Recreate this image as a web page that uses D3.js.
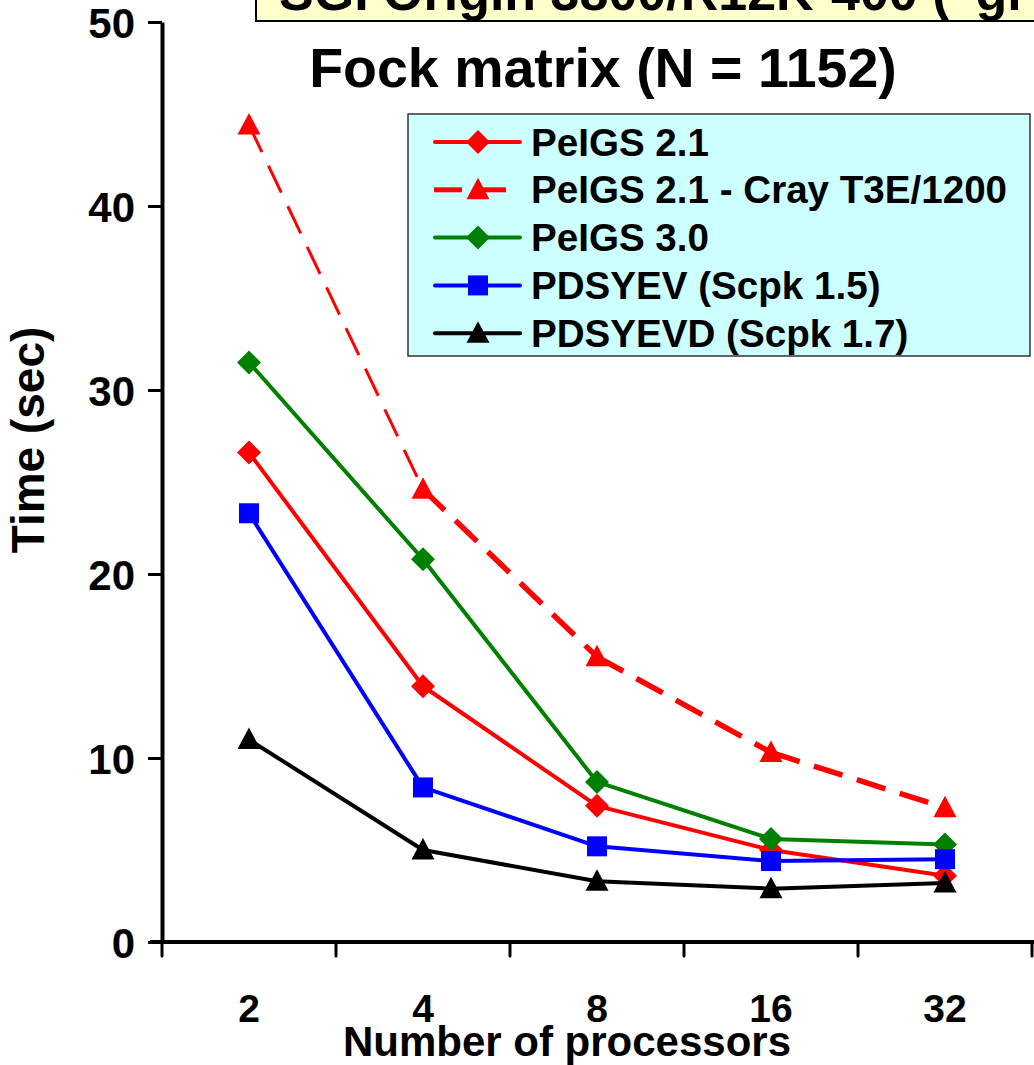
<!DOCTYPE html>
<html>
<head>
<meta charset="utf-8">
<script src="https://cdn.jsdelivr.net/npm/d3@7"></script>
<style>
  html, body { margin: 0; padding: 0; background: #fff; }
  svg { display: block; font-family: "Liberation Sans", Arial, sans-serif; font-weight: bold; }
</style>
</head>
<body>
<svg id="chart" width="1034" height="1065"></svg>
<script>
// ---- data ----
const processors = ["2", "4", "8", "16", "32"];
const yTicks = [0, 10, 20, 30, 40, 50];
const seriesNames = ["PeIGS 2.1", "PeIGS 2.1 - Cray T3E/1200", "PeIGS 3.0", "PDSYEV (Scpk 1.5)", "PDSYEVD (Scpk 1.7)"];
const peigs21 = [26.6, 13.9, 7.4, 5.0, 3.6];
const peigs21Cray = [44.4, 24.6, 15.5, 10.3, 7.3];
const peigs30 = [31.5, 20.8, 8.7, 5.6, 5.3];
const pdsyev = [23.3, 8.4, 5.2, 4.4, 4.5];
const pdsyevd = [11.0, 5.0, 3.3, 2.9, 3.2];
const titleText = "Fock matrix (N = 1152)";
const bannerText = "SGI Origin 3800/R12K-400 (\u201Cgi";
const xTitle = "Number of processors";
const yTitle = "Time (sec)";

// ---- styles ----
const styles = [
  { color: "#FF0000", shape: "diamond", dash: null },
  { color: "#FF0000", shape: "triangle", dash: "30,15" },
  { color: "#008000", shape: "diamond", dash: null },
  { color: "#0000FF", shape: "square", dash: null },
  { color: "#000000", shape: "triangle", dash: null }
];
const crayWidths = [3, 5.5, 5.5, 5.5];
const values = [peigs21, peigs21Cray, peigs30, pdsyev, pdsyevd];

const svg = d3.select("#chart");
const x = d3.scaleBand().domain(processors).range([162, 1032]).padding(0);
const y = d3.scaleLinear().domain([0, 50]).range([942, 22]);
const cx = d => x(d) + x.bandwidth() / 2;

// banner at top
svg.append("rect").attr("x", 256).attr("y", -40).attr("width", 900).attr("height", 61)
  .attr("fill", "#FFFFCC").attr("stroke", "#000").attr("stroke-width", 2);
svg.append("text").attr("x", 279).attr("y", 10).attr("font-size", 52).text(bannerText);

// title
svg.append("text").attr("x", 603).attr("y", 87).attr("text-anchor", "middle")
  .attr("font-size", 55.5).text(titleText);

// y axis
const yAxis = d3.axisLeft(y).tickValues(yTicks).tickSize(14).tickPadding(13).tickSizeOuter(0);
const gy = svg.append("g").attr("transform", "translate(162,0)").call(yAxis);
gy.select(".domain").attr("stroke-width", 4);
gy.selectAll(".tick line").attr("stroke-width", 3);
gy.selectAll(".tick text").attr("font-size", 42).attr("font-family", "Liberation Sans, Arial, sans-serif")
  .attr("font-weight", "bold").attr("fill", "#000").attr("dy", "0.36em");

// x axis
const bounds = processors.map(p => x(p)).concat([x(processors[processors.length - 1]) + x.bandwidth()]);
svg.append("line").attr("x1", 150).attr("x2", 1034).attr("y1", y(0)).attr("y2", y(0))
  .attr("stroke", "#000").attr("stroke-width", 4);
svg.selectAll(".xtick").data(bounds).enter().append("line")
  .attr("x1", d => d).attr("x2", d => d).attr("y1", y(0)).attr("y2", y(0) + 14)
  .attr("stroke", "#000").attr("stroke-width", 3).attr("stroke-linecap", "round");
svg.selectAll(".xlabel").data(processors).enter().append("text")
  .attr("x", d => cx(d)).attr("y", 1022).attr("text-anchor", "middle")
  .attr("font-size", 39).text(d => d);

// axis titles
svg.append("text").attr("x", 567).attr("y", 1056).attr("text-anchor", "middle")
  .attr("font-size", 42).text(xTitle);
svg.append("text").attr("transform", "translate(44,440) rotate(-90)").attr("text-anchor", "middle")
  .attr("font-size", 46).text(yTitle);

// markers
function diamondPath(px, py, r) {
  return `M${px},${py - r}L${px + r},${py}L${px},${py + r}L${px - r},${py}Z`;
}
function drawMarker(g, shape, color, px, py) {
  if (shape === "diamond") {
    g.append("path").attr("d", diamondPath(px, py, 12)).attr("fill", color);
  } else if (shape === "square") {
    g.append("rect").attr("x", px - 10).attr("y", py - 10).attr("width", 20).attr("height", 20).attr("fill", color);
  } else {
    g.append("path").attr("d", `M${px},${py - 12}L${px + 11.5},${py + 9.5}L${px - 11.5},${py + 9.5}Z`).attr("fill", color);
  }
}

const line = d3.line().x(d => cx(d.p)).y(d => y(d.v));
values.forEach((vals, i) => {
  const st = styles[i];
  const pts = processors.map((p, j) => ({ p, v: vals[j] }));
  const g = svg.append("g");
  if (st.dash) {
    for (let j = 0; j < pts.length - 1; j++) {
      g.append("path").attr("d", line([pts[j], pts[j + 1]])).attr("fill", "none")
        .attr("stroke", st.color).attr("stroke-width", crayWidths[j]).attr("stroke-dasharray", st.dash);
    }
  } else {
    g.append("path").attr("d", line(pts)).attr("fill", "none").attr("stroke", st.color)
      .attr("stroke-width", 4).attr("stroke-linejoin", "round");
  }
  pts.forEach(d => drawMarker(g, st.shape, st.color, cx(d.p), y(d.v)));
});

// legend
const lg = svg.append("g");
lg.append("rect").attr("x", 408).attr("y", 114).attr("width", 622).attr("height", 242)
  .attr("fill", "#CCFFFF").attr("stroke", "#333").attr("stroke-width", 1.5);
seriesNames.forEach((name, i) => {
  const st = styles[i];
  const ry = 142 + i * 47.8;
  if (st.dash) {
    lg.append("line").attr("x1", 434).attr("x2", 462).attr("y1", ry).attr("y2", ry)
      .attr("stroke", st.color).attr("stroke-width", 5);
    lg.append("line").attr("x1", 478).attr("x2", 506).attr("y1", ry).attr("y2", ry)
      .attr("stroke", st.color).attr("stroke-width", 5);
  } else {
    lg.append("line").attr("x1", 435).attr("x2", 520).attr("y1", ry).attr("y2", ry)
      .attr("stroke", st.color).attr("stroke-width", 4).attr("stroke-linecap", "round");
  }
  drawMarker(lg, st.shape, st.color, 478, ry);
  lg.append("text").attr("x", 531).attr("y", ry + 13.5).attr("font-size", 38.6).text(name);
});
</script>
</body>
</html>
